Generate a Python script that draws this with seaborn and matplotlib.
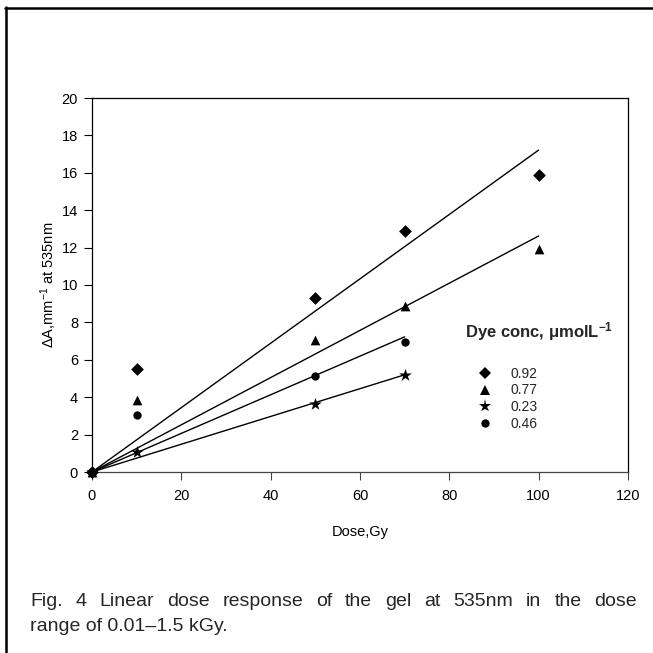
import numpy as np
import pandas as pd
import matplotlib
matplotlib.use("Agg")
import matplotlib.pyplot as plt
from matplotlib.lines import Line2D
import seaborn as sns

# ---- data ----
conc_labels = ["0.92", "0.77", "0.23", "0.46"]
dose_092 = [0, 10, 50, 70, 100]
dA_092 = [0, 5.5, 9.3, 12.9, 15.9]
dose_077 = [0, 10, 50, 70, 100]
dA_077 = [0, 3.85, 7.05, 8.9, 11.95]
dose_023 = [0, 10, 50, 70]
dA_023 = [0, 1.05, 3.65, 5.2]
dose_046 = [0, 10, 50, 70]
dA_046 = [0, 3.05, 5.15, 6.95]
x_ticks = [0, 20, 40, 60, 80, 100, 120]
y_ticks = [0, 2, 4, 6, 8, 10, 12, 14, 16, 18, 20]

series = {
    "0.92": (dose_092, dA_092),
    "0.77": (dose_077, dA_077),
    "0.23": (dose_023, dA_023),
    "0.46": (dose_046, dA_046),
}
markers = {"0.92": "D", "0.77": "^", "0.23": "*", "0.46": "o"}
msizes = {"0.92": 6.5, "0.77": 7.0, "0.23": 9.5, "0.46": 6.0}

sns.set_theme(style="white")
plt.rcParams["font.family"] = ["Liberation Sans", "DejaVu Sans"]
plt.rcParams["mathtext.default"] = "regular"

fig = plt.figure(figsize=(6.53, 6.53), dpi=100)
W = H = 653.0
ax = fig.add_axes([92 / W, 1 - 472 / H, (628 - 92) / W, (472 - 98) / H])

rows = []
for lab in conc_labels:
    d, v = series[lab]
    for xi, yi in zip(d, v):
        rows.append({"dose": xi, "dA": yi, "conc": lab})
df = pd.DataFrame(rows)

handles = []
for lab in conc_labels:
    sub = df[df.conc == lab]
    sns.scatterplot(data=sub, x="dose", y="dA", marker=markers[lab],
                    s=msizes[lab] ** 2, color="black", edgecolor="black",
                    linewidth=0, ax=ax, clip_on=False, zorder=3, legend=False)
    # least squares fit through origin
    xs = np.array(sub.dose, float)
    ys = np.array(sub.dA, float)
    slope = (xs * ys).sum() / (xs ** 2).sum()
    xf = np.array([0, xs.max()])
    fit = pd.DataFrame({"dose": xf, "fit": slope * xf})
    sns.lineplot(data=fit, x="dose", y="fit", color="black", lw=1.0, ax=ax,
                 zorder=2)
    handles.append(Line2D([], [], ls="none", marker=markers[lab],
                          markersize=msizes[lab], color="black",
                          markeredgewidth=0))

ax.set_xlim(0, 120)
ax.set_ylim(0, 20)
ax.set_xticks(x_ticks)
ax.set_yticks(y_ticks)
ax.tick_params(axis="both", direction="out", length=6, width=0.8,
               labelsize=10.5, colors="black", left=True, bottom=True)
ax.tick_params(axis="x", pad=6, color="#444444")
ax.tick_params(axis="y", pad=4)
for s in ax.spines.values():
    s.set_visible(True)
    s.set_color("black")
    s.set_linewidth(0.9)
ax.spines["bottom"].set_color("#444444")
ax.grid(False)

ax.set_xlabel("Dose,Gy", fontsize=10.5, labelpad=16, color="black")
ax.set_ylabel("ΔA,mm$^{-1}$ at 535nm", fontsize=10.5, labelpad=2, color="black")

leg = ax.legend(handles, conc_labels, loc="upper left",
                bbox_to_anchor=(477 / W, 1 - 367 / H),
                bbox_transform=fig.transFigure, frameon=False,
                fontsize=10, handlelength=1.2, handletextpad=1.2,
                labelspacing=0.18, borderpad=0, borderaxespad=0)
fig.text(465 / W, 1 - 332 / H, "Dye conc, μmolL$^{-1}$", fontsize=12,
         fontweight="bold", ha="left", va="center")

# outer frame (top and left)
fig.add_artist(Line2D([5 / W, 1.0], [1 - 7.5 / H, 1 - 7.5 / H], color="black",
                      lw=1.8, transform=fig.transFigure))
fig.add_artist(Line2D([5.5 / W, 5.5 / W], [1 - 7 / H, 0], color="black",
                      lw=1.8, transform=fig.transFigure))

# caption, first line justified
line1 = "Fig. 4 Linear dose response of the gel at 535nm in the dose".split()
line2 = "range of 0.01–1.5 kGy."
cap_size = 14
fig.canvas.draw()
renderer = fig.canvas.get_renderer()
texts = []
for w in line1:
    t = fig.text(0, 1 - 606 / H, w, fontsize=cap_size, ha="left",
                 va="baseline")
    texts.append(t)
widths = [t.get_window_extent(renderer).width for t in texts]
left, right = 30.0, 637.0
gap = (right - left - sum(widths)) / (len(widths) - 1)
x = left
for t, wd in zip(texts, widths):
    t.set_x(x / W)
    x += wd + gap
fig.text(left / W, 1 - 631 / H, line2, fontsize=cap_size, ha="left",
         va="baseline")

fig.savefig("out.png", dpi=100)
